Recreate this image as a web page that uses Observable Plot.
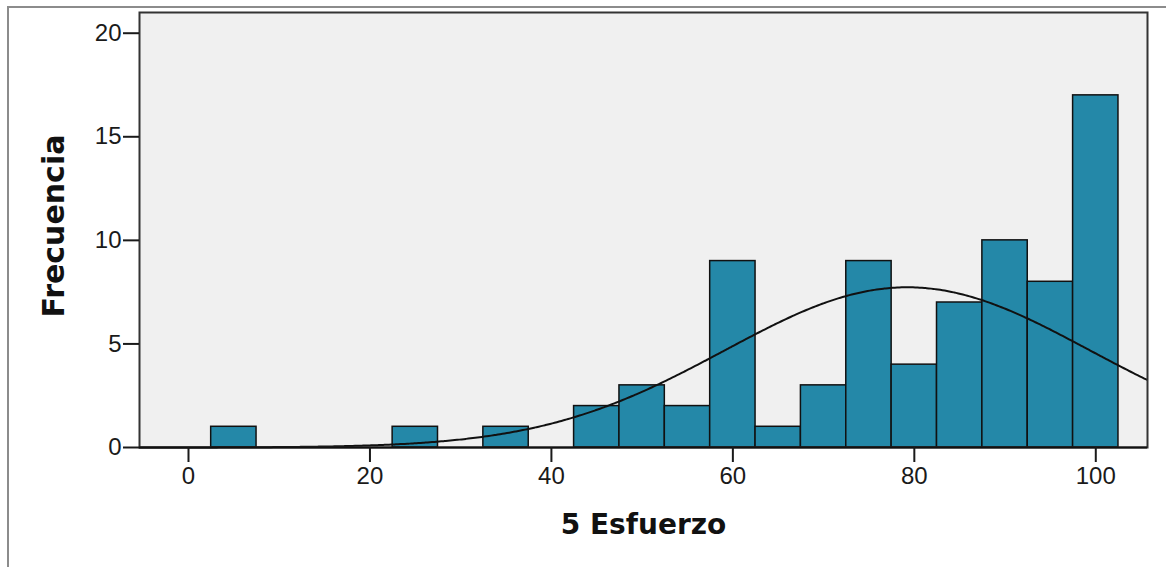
<!DOCTYPE html>
<html>
<head>
<meta charset="utf-8">
<script src="https://cdn.jsdelivr.net/npm/d3@7"></script>
<script src="https://cdn.jsdelivr.net/npm/@observablehq/plot@0.6"></script>
<style>
  html, body { margin: 0; padding: 0; background: #ffffff; overflow: hidden; }
  #wrap { position: relative; width: 1166px; height: 567px; }
  #outer { position: absolute; left: 7px; top: 6px; width: 1300px; height: 700px;
           border: 2px solid #8c8c8c; pointer-events: none; box-sizing: border-box; }
  svg { display: block; }
</style>
</head>
<body>
<div id="wrap"><div id="outer"></div></div>
<script>
// Histogram bins of "5 Esfuerzo" (bin width 5)
const binMidpoints = [5, 25, 35, 45, 50, 55, 60, 65, 70, 75, 80, 85, 90, 95, 100];
const binCounts    = [1, 1, 1, 2, 3, 2, 9, 1, 3, 9, 4, 7, 10, 8, 17];
const binWidth = 5;
const xTicks = [0, 20, 40, 60, 80, 100];
const yTicks = [0, 5, 10, 15, 20];
const xLabel = "5 Esfuerzo";
const yLabel = "Frecuencia";

const bins = binMidpoints.map((m, i) => ({x1: m - binWidth / 2, x2: m + binWidth / 2, count: binCounts[i]}));

// Fitted normal curve (from the binned data)
const n = d3.sum(binCounts);
const mean = d3.sum(binMidpoints, (m, i) => m * binCounts[i]) / n;
const sd = Math.sqrt(d3.sum(binMidpoints, (m, i) => binCounts[i] * (m - mean) ** 2) / (n - 1));
const xDomain = [-5.4, 105.7];
const curve = d3.range(xDomain[0], xDomain[1] + 0.01, 0.25).map(x => ({
  x, y: n * binWidth * Math.exp(-0.5 * ((x - mean) / sd) ** 2) / (sd * Math.sqrt(2 * Math.PI))
}));

const chart = Plot.plot({
  width: 1166,
  height: 567,
  marginLeft: 139,
  marginRight: 19,
  marginTop: 12,
  marginBottom: 120,
  style: {fontFamily: "'Liberation Sans', Arial, sans-serif", color: "#1a1a1a", background: "transparent"},
  x: {domain: xDomain},
  y: {domain: [0, 21]},
  marks: [
    Plot.frame({fill: "#f0f0f0", stroke: null}),
    Plot.rectY(bins, {x1: "x1", x2: "x2", y: "count", fill: "#2488a8", stroke: "#111", strokeWidth: 1.5}),
    Plot.line(curve, {x: "x", y: "y", stroke: "#111", strokeWidth: 2, curve: "basis"}),
    Plot.frame({stroke: "#333", strokeWidth: 2}),
    Plot.ruleY([0], {stroke: "#111", strokeWidth: 2}),
    Plot.axisX({ticks: xTicks, tickSize: 15, tickPadding: 4, fontSize: 24, strokeWidth: 2, label: null, fill: "#1a1a1a"}),
    Plot.axisY({ticks: yTicks, tickSize: 16, tickPadding: 2, fontSize: 24, strokeWidth: 2, label: null, fill: "#1a1a1a"}),
    Plot.text([xLabel], {frameAnchor: "bottom", dy: 78, text: d => d, fontSize: 28, fontWeight: "bold",
      fontFamily: "'DejaVu Sans', sans-serif", fill: "#111", lineAnchor: "middle"}),
    Plot.text([yLabel], {frameAnchor: "left", dx: -85, dy: -4, rotate: -90, text: d => d, fontSize: 30, fontWeight: "bold",
      fontFamily: "'DejaVu Sans', sans-serif", fill: "#111", lineAnchor: "middle", textAnchor: "middle"})
  ]
});
document.getElementById("wrap").appendChild(chart);
</script>
</body>
</html>
